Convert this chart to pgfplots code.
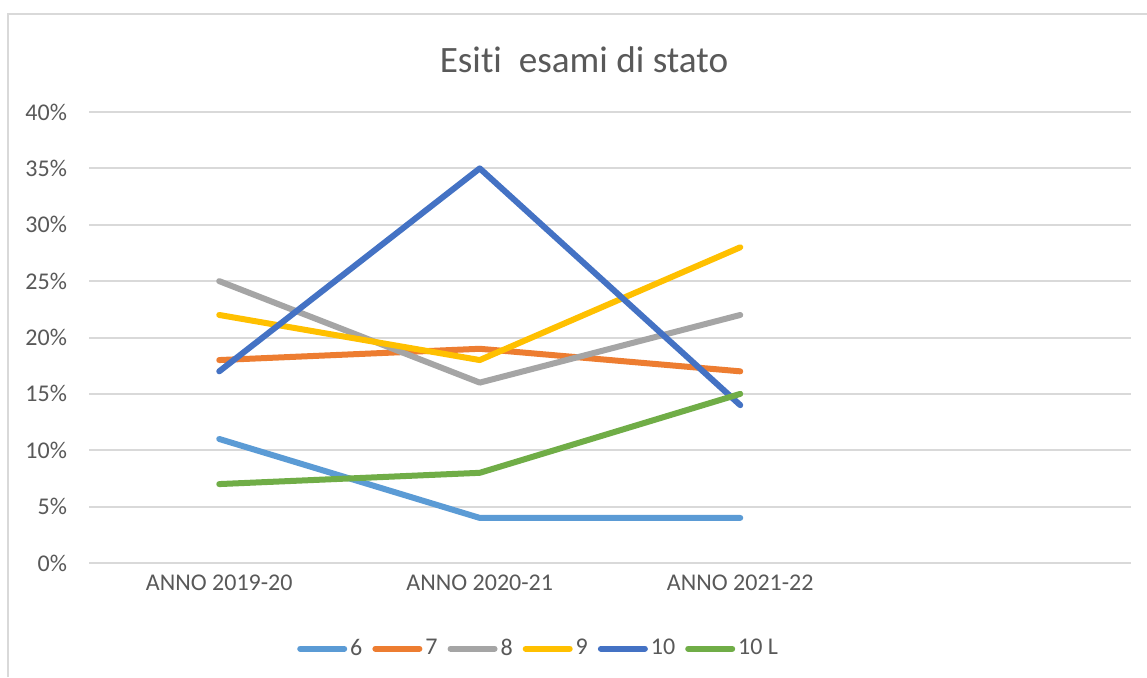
\documentclass[border=0pt]{standalone}
\usepackage{pgfplots}
\pgfplotsset{compat=1.18}
\usepackage{fontspec}
\setmainfont{Carlito}[Ligatures=NoCommon]
\definecolor{txt}{HTML}{595959}
\definecolor{grd}{HTML}{D9D9D9}
\definecolor{cA}{HTML}{5B9BD5}
\definecolor{cB}{HTML}{ED7D31}
\definecolor{cC}{HTML}{A5A5A5}
\definecolor{cD}{HTML}{FFC000}
\definecolor{cE}{HTML}{4472C4}
\definecolor{cF}{HTML}{70AD47}
\begin{document}
\begin{tikzpicture}[x=0.5pt,y=0.5pt]
\useasboundingbox (0,0) rectangle (1147,677);
\fill[white] (0,0) rectangle (1147,677);
\draw[grd, line width=1pt] (8,0) -- (8,663) -- (1147,663);
\node[txt, font=\fontsize{18.6}{22}\selectfont, anchor=base] at (584,605) {Esiti\ \ esami di stato};
\begin{axis}[
  at={(44.5pt,57pt)}, anchor=south west,
  scale only axis, width=521pt, height=225.5pt,
  xmin=-0.5, xmax=3.5, ymin=0, ymax=40,
  xtick={0,1,2}, xticklabels={ANNO 2019-20,ANNO 2020-21,ANNO 2021-22},
  ytick={0,5,...,40},
  yticklabel={\pgfmathprintnumber{\tick}\%},
  /pgf/number format/assume math mode=true,
  ymajorgrids, major grid style={grd, line width=1pt},
  axis line style={draw=none},
  major tick length=0pt,
  tick label style={txt, font=\fontsize{12}{14}\selectfont},
  y tick label style={xshift=-7.5pt},
  x tick label style={yshift=-2.5pt},
  clip=false,
  legend columns=6,
  legend style={at={(0.432,-0.19)}, anchor=center, draw=none, fill=none,
    font=\fontsize{12}{14}\selectfont, text=txt,
    /tikz/every even column/.append style={column sep=3.5pt},
    nodes={inner sep=1.5pt}},
  legend image code/.code={\draw[#1, line width=3pt, line cap=round] (0pt,0pt) -- (22pt,0pt);},
  every axis plot/.append style={line width=3pt, line cap=round, line join=round},
]
\addplot[cA] coordinates {(0,11) (1,4) (2,4)};
\addlegendentry{6}
\addplot[cB] coordinates {(0,18) (1,19) (2,17)};
\addlegendentry{7}
\addplot[cC] coordinates {(0,25) (1,16) (2,22)};
\addlegendentry{8}
\addplot[cD] coordinates {(0,22) (1,18) (2,28)};
\addlegendentry{9}
\addplot[cE] coordinates {(0,17) (1,35) (2,14)};
\addlegendentry{10}
\addplot[cF] coordinates {(0,7) (1,8) (2,15)};
\addlegendentry{10 L}
\end{axis}
\end{tikzpicture}
\end{document}
